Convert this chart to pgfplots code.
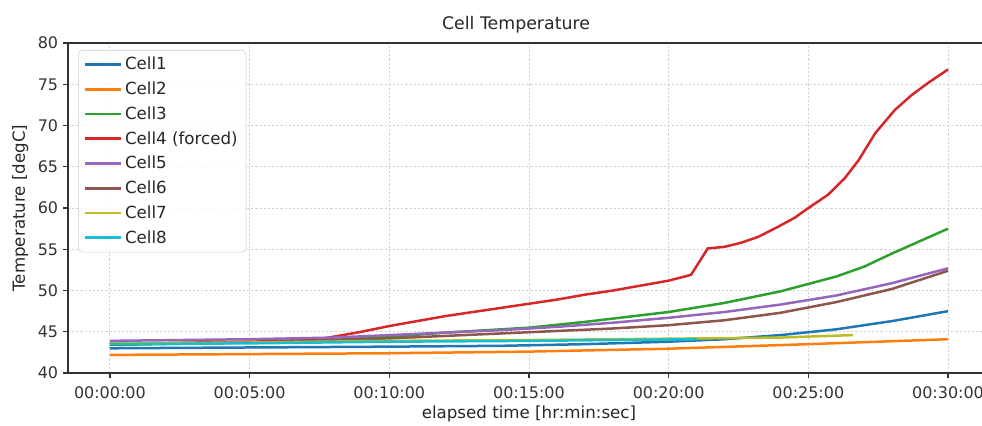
\documentclass[border=0pt]{standalone}
\usepackage{fontspec}
\setmainfont{DejaVu Sans}
\usepackage{pgfplots}
\pgfplotsset{compat=1.18}

\definecolor{tabblue}{HTML}{1F77B4}
\definecolor{taborange}{HTML}{FF7F0E}
\definecolor{tabgreen}{HTML}{2CA02C}
\definecolor{tabred}{HTML}{D62728}
\definecolor{tabpurple}{HTML}{9467BD}
\definecolor{tabbrown}{HTML}{8C564B}
\definecolor{tabolive}{HTML}{BCBD22}
\definecolor{tabcyan}{HTML}{17BECF}

\begin{document}
\begin{tikzpicture}
\begin{axis}[
    at={(0,0)}, anchor=south west,
    scale only axis, width=663.8pt, height=237.6pt,
    xmin=-1.5, xmax=31.5, ymin=40, ymax=80,
    xtick={0,5,10,15,20,25,30},
    xticklabels={00:00:00,00:05:00,00:10:00,00:15:00,00:20:00,00:25:00,00:30:00},
    ytick={40,45,50,55,60,65,70,75,80},
    /pgf/number format/assume math mode=true,
    tick align=outside, tick pos=left,
    major tick length=3.6pt,
    axis line style={black!80, line width=0.9pt},
    every tick/.style={black!80, line width=0.9pt},
    grid=major,
    major grid style={gray!35, line width=0.6pt, dash pattern=on 1.5pt off 1.5pt},
    tick label style={font=\fontsize{11.5}{13}\selectfont, text=black!80},
    xticklabel style={yshift=-2.5pt},
    xlabel={elapsed time [hr:min:sec]},
    ylabel={Temperature [degC]},
    label style={font=\fontsize{12}{14}\selectfont, text=black!85},
    xlabel style={yshift=1.5pt},
    title={Cell Temperature},
    title style={font=\fontsize{12.5}{15}\selectfont, text=black!85, at={(0.486,1)}, anchor=south, yshift=-2.5pt},
    legend style={at={(0.011,0.979)}, anchor=north west, draw=black!20,
        rounded corners=3pt, fill=white, fill opacity=0.8, text opacity=1,
        font=\fontsize{12}{14}\selectfont, text=black!85, row sep=3.2pt,
        inner xsep=4pt, inner ysep=3pt},
    legend cell align=left,
    legend image code/.code={\draw[#1, line width=2pt] (0cm,0cm) -- (0.9cm,0cm);},
    every axis plot/.append style={line width=1.8pt},
]
\addplot[tabblue] coordinates {(0,43.0) (5,43.1) (10,43.2) (14,43.3) (17,43.5) (20,43.8) (22,44.1) (24,44.6) (26,45.3) (28,46.3) (30,47.5)};
\addlegendentry{Cell1}
\addplot[taborange] coordinates {(0,42.2) (5,42.3) (10,42.4) (15,42.6) (20,42.95) (25,43.5) (30,44.1)};
\addlegendentry{Cell2}
\addplot[tabgreen] coordinates {(0,43.4) (5,43.7) (8,44.0) (10,44.4) (12,44.9) (15,45.5) (17,46.2) (20,47.4) (22,48.5) (24,49.9) (25,50.8) (26,51.7) (27,52.9) (28,54.5) (29,56.0) (30,57.5)};
\addlegendentry{Cell3}
\addplot[tabred] coordinates {(0,43.5) (3,43.7) (5,43.8) (7,44.0) (7.5,44.1) (8,44.4) (9,45.0) (10,45.7) (11,46.3) (12,46.9) (13,47.4) (14,47.9) (15,48.4) (16,48.9) (17,49.5) (18,50.0) (19,50.6) (20,51.2) (20.8,51.9) (21.4,55.1) (22,55.3) (22.6,55.8) (23.2,56.5) (23.9,57.7) (24.5,58.8) (25,60.0) (25.7,61.6) (26.3,63.6) (26.8,65.8) (27.4,69.1) (28.1,71.9) (28.7,73.7) (29.3,75.2) (30,76.8)};
\addlegendentry{Cell4 (forced)}
\addplot[tabpurple] coordinates {(0,43.9) (5,44.1) (8,44.3) (10,44.6) (12,44.9) (14,45.2) (16,45.6) (18,46.1) (20,46.7) (22,47.4) (24,48.3) (26,49.4) (28,50.9) (30,52.7)};
\addlegendentry{Cell5}
\addplot[tabbrown] coordinates {(0,43.5) (5,43.7) (10,44.2) (14,44.8) (16,45.1) (18,45.4) (20,45.8) (22,46.4) (24,47.3) (26,48.6) (28,50.2) (30,52.4)};
\addlegendentry{Cell6}
\addplot[tabolive] coordinates {(0,43.6) (5,43.7) (10,43.9) (15,44.0) (21,44.2) (24,44.3) (26.6,44.6)};
\addlegendentry{Cell7}
\addplot[tabcyan] coordinates {(0,43.5) (5,43.6) (10,43.8) (15,43.9) (21,44.1)};
\addlegendentry{Cell8}
\end{axis}
\pgfresetboundingbox
\path[use as bounding box] (-48.96pt,-37.44pt) rectangle (658.1pt,268.6pt);
\end{tikzpicture}
\end{document}
